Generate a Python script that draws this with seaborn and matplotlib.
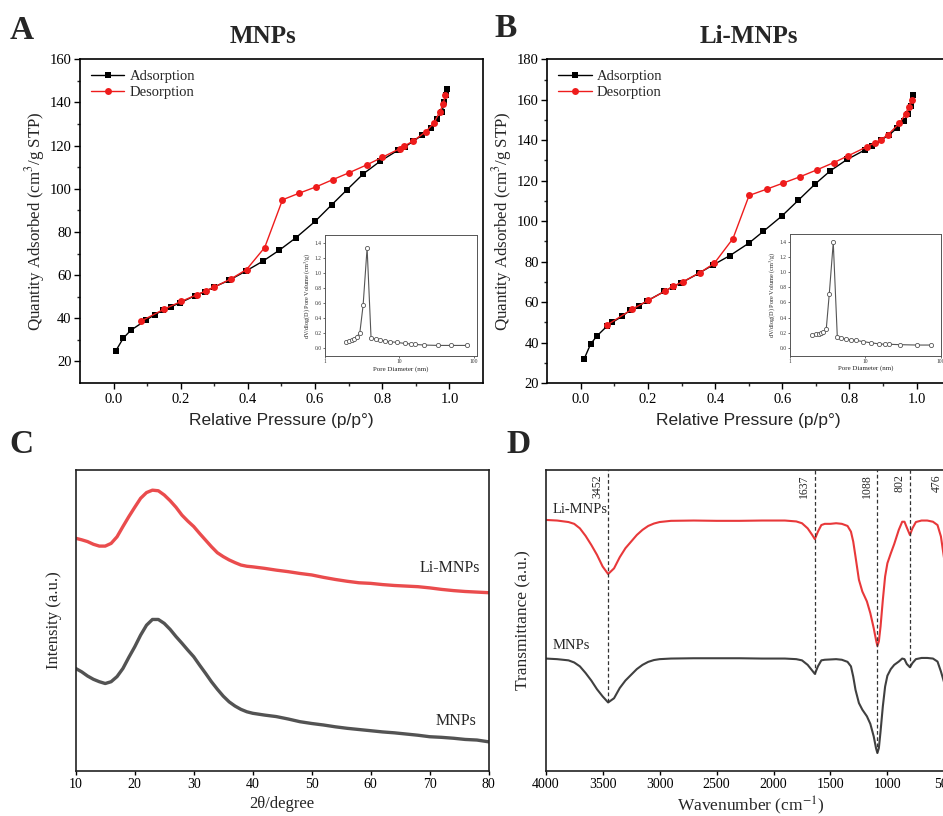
import numpy as np
import pandas as pd
import matplotlib
matplotlib.use("Agg")
import matplotlib.pyplot as plt
import seaborn as sns

# ---------------- data ----------------
# Panel A (MNPs) isotherm
a_ads_p = [0.007, 0.029, 0.051, 0.098, 0.123, 0.147, 0.172, 0.197, 0.243, 0.273, 0.299, 0.344, 0.393,
           0.444, 0.493, 0.542, 0.600, 0.649, 0.694, 0.744, 0.794, 0.846, 0.869, 0.893, 0.919, 0.944,
           0.964, 0.978, 0.985, 0.990, 0.993]
a_ads_q = [25.0, 30.8, 34.4, 39.3, 41.7, 43.7, 45.4, 47.1, 50.5, 52.4, 54.5, 57.6, 61.8,
           66.4, 71.5, 77.2, 84.9, 92.5, 99.4, 107.0, 112.8, 117.8, 119.6, 122.1, 124.9, 128.4,
           132.3, 135.7, 140.0, 143.4, 146.3]
a_des_p = [0.988, 0.981, 0.971, 0.953, 0.930, 0.891, 0.866, 0.852, 0.800, 0.754, 0.702, 0.652, 0.603,
           0.553, 0.503, 0.450, 0.396, 0.351, 0.299, 0.274, 0.249, 0.201, 0.150, 0.082]
a_des_q = [143.3, 139.3, 135.5, 130.4, 126.5, 122.0, 119.9, 118.6, 114.6, 111.1, 107.5, 104.2, 100.9,
           98.0, 94.9, 72.8, 62.6, 58.4, 54.4, 52.6, 51.0, 47.8, 44.2, 38.7]
a_pore_d = [1.91, 2.12, 2.30, 2.47, 2.66, 2.94, 3.26, 3.69, 4.17, 4.82, 5.45, 6.37, 7.50, 9.21,
            11.8, 14.5, 16.5, 21.8, 33.6, 50.2, 81.6]
a_pore_v = [0.08, 0.10, 0.115, 0.13, 0.155, 0.20, 0.57, 1.33, 0.14, 0.125, 0.115, 0.10, 0.09, 0.08,
            0.067, 0.058, 0.053, 0.045, 0.04, 0.04, 0.04]

# Panel B (Li-MNPs) isotherm
b_ads_p = [0.010, 0.029, 0.048, 0.079, 0.094, 0.122, 0.146, 0.172, 0.196, 0.249, 0.274, 0.299, 0.352,
           0.393, 0.444, 0.500, 0.543, 0.599, 0.648, 0.698, 0.743, 0.793, 0.845, 0.868, 0.893, 0.918,
           0.942, 0.962, 0.974, 0.983, 0.990]
b_ads_q = [32.0, 39.3, 43.3, 48.3, 50.0, 52.9, 55.9, 58.0, 60.5, 65.3, 67.6, 69.5, 74.3,
           78.3, 83.0, 89.1, 94.9, 102.6, 110.4, 118.4, 124.9, 130.5, 135.1, 137.4, 140.0, 142.6,
           146.1, 149.7, 153.0, 157.0, 162.6]
b_des_p = [0.985, 0.976, 0.967, 0.949, 0.915, 0.893, 0.876, 0.851, 0.797, 0.754, 0.702, 0.652, 0.602,
           0.553, 0.501, 0.453, 0.397, 0.354, 0.303, 0.275, 0.250, 0.200, 0.153, 0.079]
b_des_q = [159.9, 156.3, 153.0, 148.4, 142.8, 140.2, 138.8, 136.7, 132.4, 129.0, 125.3, 121.9, 118.8,
           115.8, 112.7, 91.4, 79.1, 74.5, 70.0, 67.9, 65.4, 60.8, 56.5, 48.8]
b_pore_d = [1.96, 2.22, 2.39, 2.54, 2.73, 3.02, 3.31, 3.74, 4.23, 4.79, 5.47, 6.37, 7.59, 9.31,
            11.8, 15.2, 18.1, 20.7, 28.7, 47.9, 74.3]
b_pore_v = [0.17, 0.185, 0.19, 0.20, 0.21, 0.25, 0.71, 1.39, 0.15, 0.135, 0.12, 0.11, 0.10, 0.085,
            0.07, 0.055, 0.05, 0.05, 0.045, 0.04, 0.04]

# Panel C XRD
xrd_2theta = [10, 11, 12, 13, 14, 15, 16, 17, 18, 19, 20, 21, 22, 23, 24, 25, 26, 27, 28, 29, 30, 31,
              32, 33, 34, 35, 36, 37, 38, 39, 40, 42, 44, 46, 48, 50, 52, 54, 56, 58, 60, 62, 64,
              66, 68, 70, 72, 74, 76, 78, 80]
xrd_li = [77.3, 76.8, 76.2, 75.3, 74.7, 74.7, 75.6, 77.8, 81.2, 84.5, 87.6, 90.6, 92.5, 93.3, 93.1,
          91.7, 89.8, 87.6, 85.0, 83.0, 81.2, 78.9, 76.7, 74.5, 72.5, 71.2, 70.1, 69.2, 68.4, 68.0,
          67.8, 67.3, 66.7, 66.2, 65.6, 65.1, 64.3, 63.6, 63.0, 62.5, 62.3, 61.9, 61.6, 61.4, 61.2,
          60.8, 60.3, 59.9, 59.6, 59.4, 59.2]
xrd_mnp = [34.0, 32.9, 31.5, 30.4, 29.6, 29.0, 29.6, 31.3, 34.0, 37.7, 41.2, 45.1, 48.4, 50.3, 50.3,
           49.0, 47.0, 44.6, 42.4, 40.1, 37.9, 35.1, 32.4, 29.6, 27.1, 24.8, 22.9, 21.5, 20.4, 19.6,
           19.1, 18.5, 18.0, 17.2, 16.3, 15.7, 15.2, 14.6, 14.1, 13.7, 13.3, 12.9, 12.6, 12.2, 11.8,
           11.3, 11.1, 10.8, 10.4, 10.2, 9.6]

# Panel D FTIR
ir_li_wn = [4000, 3900, 3800, 3750, 3700, 3650, 3600, 3550, 3500, 3452, 3400, 3350, 3300, 3250, 3200,
            3150, 3100, 3050, 3000, 2900, 2700, 2500, 2300, 2100, 1900, 1800, 1750, 1700, 1660, 1637,
            1610, 1580, 1550, 1500, 1450, 1400, 1350, 1320, 1300, 1280, 1250, 1220, 1180, 1150, 1120,
            1100, 1088, 1075, 1060, 1040, 1020, 1000, 970, 940, 900, 870, 850, 830, 802, 780, 750,
            700, 650, 600, 560, 530, 500, 476, 450, 400]
ir_li_t = [83.4, 83.2, 82.7, 82.1, 80.6, 78.1, 75.1, 71.8, 67.9, 65.4, 67.3, 71.0, 74.0, 76.2, 78.4,
           80.1, 81.4, 82.2, 82.7, 83.1, 83.2, 83.1, 83.1, 83.2, 83.2, 82.9, 82.3, 80.6, 78.4, 77.0,
           79.5, 81.7, 82.1, 82.1, 82.3, 82.1, 81.4, 79.5, 76.2, 71.2, 63.5, 59.6, 56.3, 52.4, 47.4,
           43.5, 41.5, 43.0, 48.0, 56.8, 64.6, 69.0, 72.3, 75.4, 80.1, 82.8, 82.8, 80.9, 78.4, 80.6, 82.7,
           83.2, 83.2, 82.8, 81.7, 77.9, 70.0, 62.0, 68.0, 78.0]
ir_mnp_wn = ir_li_wn
ir_mnp_t = [37.3, 37.1, 36.7, 36.0, 34.7, 32.5, 30.0, 27.1, 24.7, 22.7, 24.1, 27.5, 30.0, 31.9, 33.8,
            35.2, 36.2, 36.8, 37.1, 37.3, 37.4, 37.4, 37.4, 37.3, 37.3, 37.1, 36.7, 35.2, 33.3, 32.2,
            34.7, 36.7, 36.9, 37.0, 37.1, 36.9, 36.2, 34.7, 31.3, 26.9, 22.5, 20.3, 18.1, 15.6, 11.4,
            7.5, 5.9, 7.5, 13.1, 21.4, 28.0, 31.6, 33.8, 35.2, 36.3, 37.3, 37.1, 35.5, 34.4, 35.8, 37.1,
            37.5, 37.5, 37.3, 36.3, 33.0, 29.1, 27.0, 29.0, 33.0]
ir_peaks = [3452, 1637, 1088, 802, 476]
ir_peak_labels = ["3452", "1637", "1088", "802", "476"]

# ---------------- style ----------------
sns.set_theme(style="ticks")
plt.rcParams["font.family"] = ["Liberation Serif", "DejaVu Serif"]
plt.rcParams["mathtext.fontset"] = "stix"
plt.rcParams["axes.linewidth"] = 1.0
plt.rcParams["xtick.direction"] = "out"
plt.rcParams["ytick.direction"] = "out"

RED = "#ee1c1c"
RED2 = "#e8383a"
GRAY = "#404040"

fig = plt.figure(figsize=(9.43, 8.16), dpi=100)

def iso_panel(rect, ads_p, ads_q, des_p, des_q, ylim, yticks, title, letter, letter_xy, title_x,
              inset_rect, pd_d, pd_v, inset_xlim):
    ax = fig.add_axes(rect)
    sns.lineplot(x=ads_p, y=ads_q, ax=ax, color="black", marker="s", markersize=4.6,
                 markeredgewidth=0, lw=1.0, label="Adsorption", sort=False)
    sns.lineplot(x=des_p, y=des_q, ax=ax, color=RED, marker="o", markersize=5.0,
                 markeredgewidth=0, lw=1.0, label="Desorption", sort=False)
    ax.set_xlim(-0.1, 1.1)
    ax.set_ylim(*ylim)
    ax.set_xticks([0.0, 0.2, 0.4, 0.6, 0.8, 1.0])
    ax.set_xticklabels(["0.0", "0.2", "0.4", "0.6", "0.8", "1.0"])
    ax.set_xticks(np.arange(0.1, 1.05, 0.2), minor=True)
    ax.set_yticks(yticks)
    ax.set_yticks(np.array(yticks[:-1]) + 10, minor=True)
    ax.tick_params(axis="both", which="major", labelsize=10.5, length=4, width=1, colors="black")
    ax.tick_params(axis="y", which="major", pad=2)
    ax.tick_params(axis="both", which="minor", length=2.5, width=1)
    ax.set_xlabel("Relative Pressure (p/p°)", fontsize=12.5, family=["Liberation Sans"], labelpad=5)
    ax.set_ylabel("Quantity Adsorbed (cm$^3$/g STP)", fontsize=12.2, labelpad=2)
    for s in ax.spines.values():
        s.set_color("black")
        s.set_linewidth(1.2)
    ax.legend(loc="upper left", frameon=False, fontsize=10.5, handlelength=2.3,
              borderaxespad=0.35, labelspacing=0.15, handletextpad=0.35)
    fig.text(letter_xy[0], letter_xy[1], letter, fontsize=24, fontweight="bold", ha="left", va="center")
    fig.text(title_x, 0.955, title, fontsize=18, fontweight="bold", ha="center", va="center")

    ins = fig.add_axes(inset_rect)
    sns.lineplot(x=pd_d, y=pd_v, ax=ins, color="#555555", marker="o", markersize=3,
                 markerfacecolor="white", markeredgecolor="#555555", markeredgewidth=0.6,
                 lw=0.8, sort=False)
    ins.set_xscale("log")
    ins.set_xlim(*inset_xlim)
    ins.set_ylim(-0.1, 1.5)
    ins.set_xticks([1, 10, 100])
    ins.set_xticklabels(["1", "10", "100"])
    ins.xaxis.set_minor_locator(matplotlib.ticker.NullLocator())
    ins.set_yticks(np.arange(0, 1.41, 0.2))
    ins.set_yticklabels([f"{v:.1f}" for v in np.arange(0, 1.41, 0.2)])
    ins.tick_params(labelsize=4, length=1.5, width=0.5, colors="#333333", pad=1)
    ins.set_xlabel("Pore Diameter (nm)", fontsize=5, labelpad=1)
    ins.set_ylabel("dV/dlog(D) Pore Volume (cm$^3$/g)", fontsize=4.5, labelpad=1)
    for s in ins.spines.values():
        s.set_color("#555555")
        s.set_linewidth(0.7)
    return ax

iso_panel([0.0848, 0.5306, 0.4274, 0.3967], a_ads_p, a_ads_q, a_des_p, a_des_q, (10, 160),
          [20, 40, 60, 80, 100, 120, 140, 160], "MNPs", "A", (0.010, 0.963), 0.279,
          [0.3446, 0.5637, 0.1609, 0.1483], a_pore_d, a_pore_v, (1, 110))
iso_panel([0.5804, 0.5306, 0.4272, 0.3967], b_ads_p, b_ads_q, b_des_p, b_des_q, (20, 180),
          [20, 40, 60, 80, 100, 120, 140, 160, 180], "Li-MNPs", "B", (0.524, 0.965), 0.794,
          [0.8378, 0.5641, 0.160, 0.1491], b_pore_d, b_pore_v, (1, 100))

# ---------------- Panel C ----------------
axc = fig.add_axes([0.0803, 0.0555, 0.438, 0.3685])
sns.lineplot(x=xrd_2theta, y=xrd_li, ax=axc, color=RED2, lw=2.4, alpha=0.9)
sns.lineplot(x=xrd_2theta, y=xrd_mnp, ax=axc, color=GRAY, lw=2.4, alpha=0.9)
axc.set_xlim(10, 80)
axc.set_ylim(0, 100)
axc.set_xticks(range(10, 81, 10))
axc.set_yticks([])
axc.tick_params(axis="x", labelsize=10, length=3, width=1, colors="black", pad=2)
axc.set_xlabel("2θ/degree", fontsize=12, labelpad=4)
axc.set_ylabel("Intensity (a.u.)", fontsize=12, labelpad=10)
for s in axc.spines.values():
    s.set_color("#222222")
    s.set_linewidth(1.2)
axc.text(78.5, 67.5, "Li-MNPs", fontsize=11.5, ha="right", va="center")
axc.text(78.0, 16.5, "MNPs", fontsize=11.5, ha="right", va="center")
fig.text(0.010, 0.455, "C", fontsize=24, fontweight="bold", ha="left", va="center")

# ---------------- Panel D ----------------
axd = fig.add_axes([0.5787, 0.0555, 0.4348, 0.3685])
sns.lineplot(x=ir_li_wn, y=ir_li_t, ax=axd, color=RED2, lw=1.5)
sns.lineplot(x=ir_mnp_wn, y=ir_mnp_t, ax=axd, color=GRAY, lw=1.5)
axd.set_xlim(4000, 400)
axd.set_ylim(0, 100)
axd.set_xticks([4000, 3500, 3000, 2500, 2000, 1500, 1000, 500])
axd.set_yticks([])
axd.tick_params(axis="x", labelsize=10, length=3, width=1, colors="black", pad=2)
axd.set_xlabel("Wavenumber (cm$^{-1}$)", fontsize=12.5, labelpad=3)
axd.set_ylabel("Transmittance (a.u.)", fontsize=12.5, labelpad=10)
for s in axd.spines.values():
    s.set_color("#222222")
    s.set_linewidth(1.2)
for wn, lab in zip(ir_peaks, ir_peak_labels):
    idx = ir_mnp_wn.index(wn)
    axd.vlines(wn, ir_mnp_t[idx], 100, colors="#333333", linestyles=(0, (3, 2)), lw=0.9)
    axd.text(wn + 40, 98.5, lab, rotation=90, fontsize=8.5, ha="right", va="top")
axd.text(3936, 87.0, "Li-MNPs", fontsize=10.5, ha="left", va="center")
axd.text(3936, 41.5, "MNPs", fontsize=10.5, ha="left", va="center")
fig.text(0.537, 0.455, "D", fontsize=24, fontweight="bold", ha="left", va="center")

fig.savefig("out.png", dpi=100)
